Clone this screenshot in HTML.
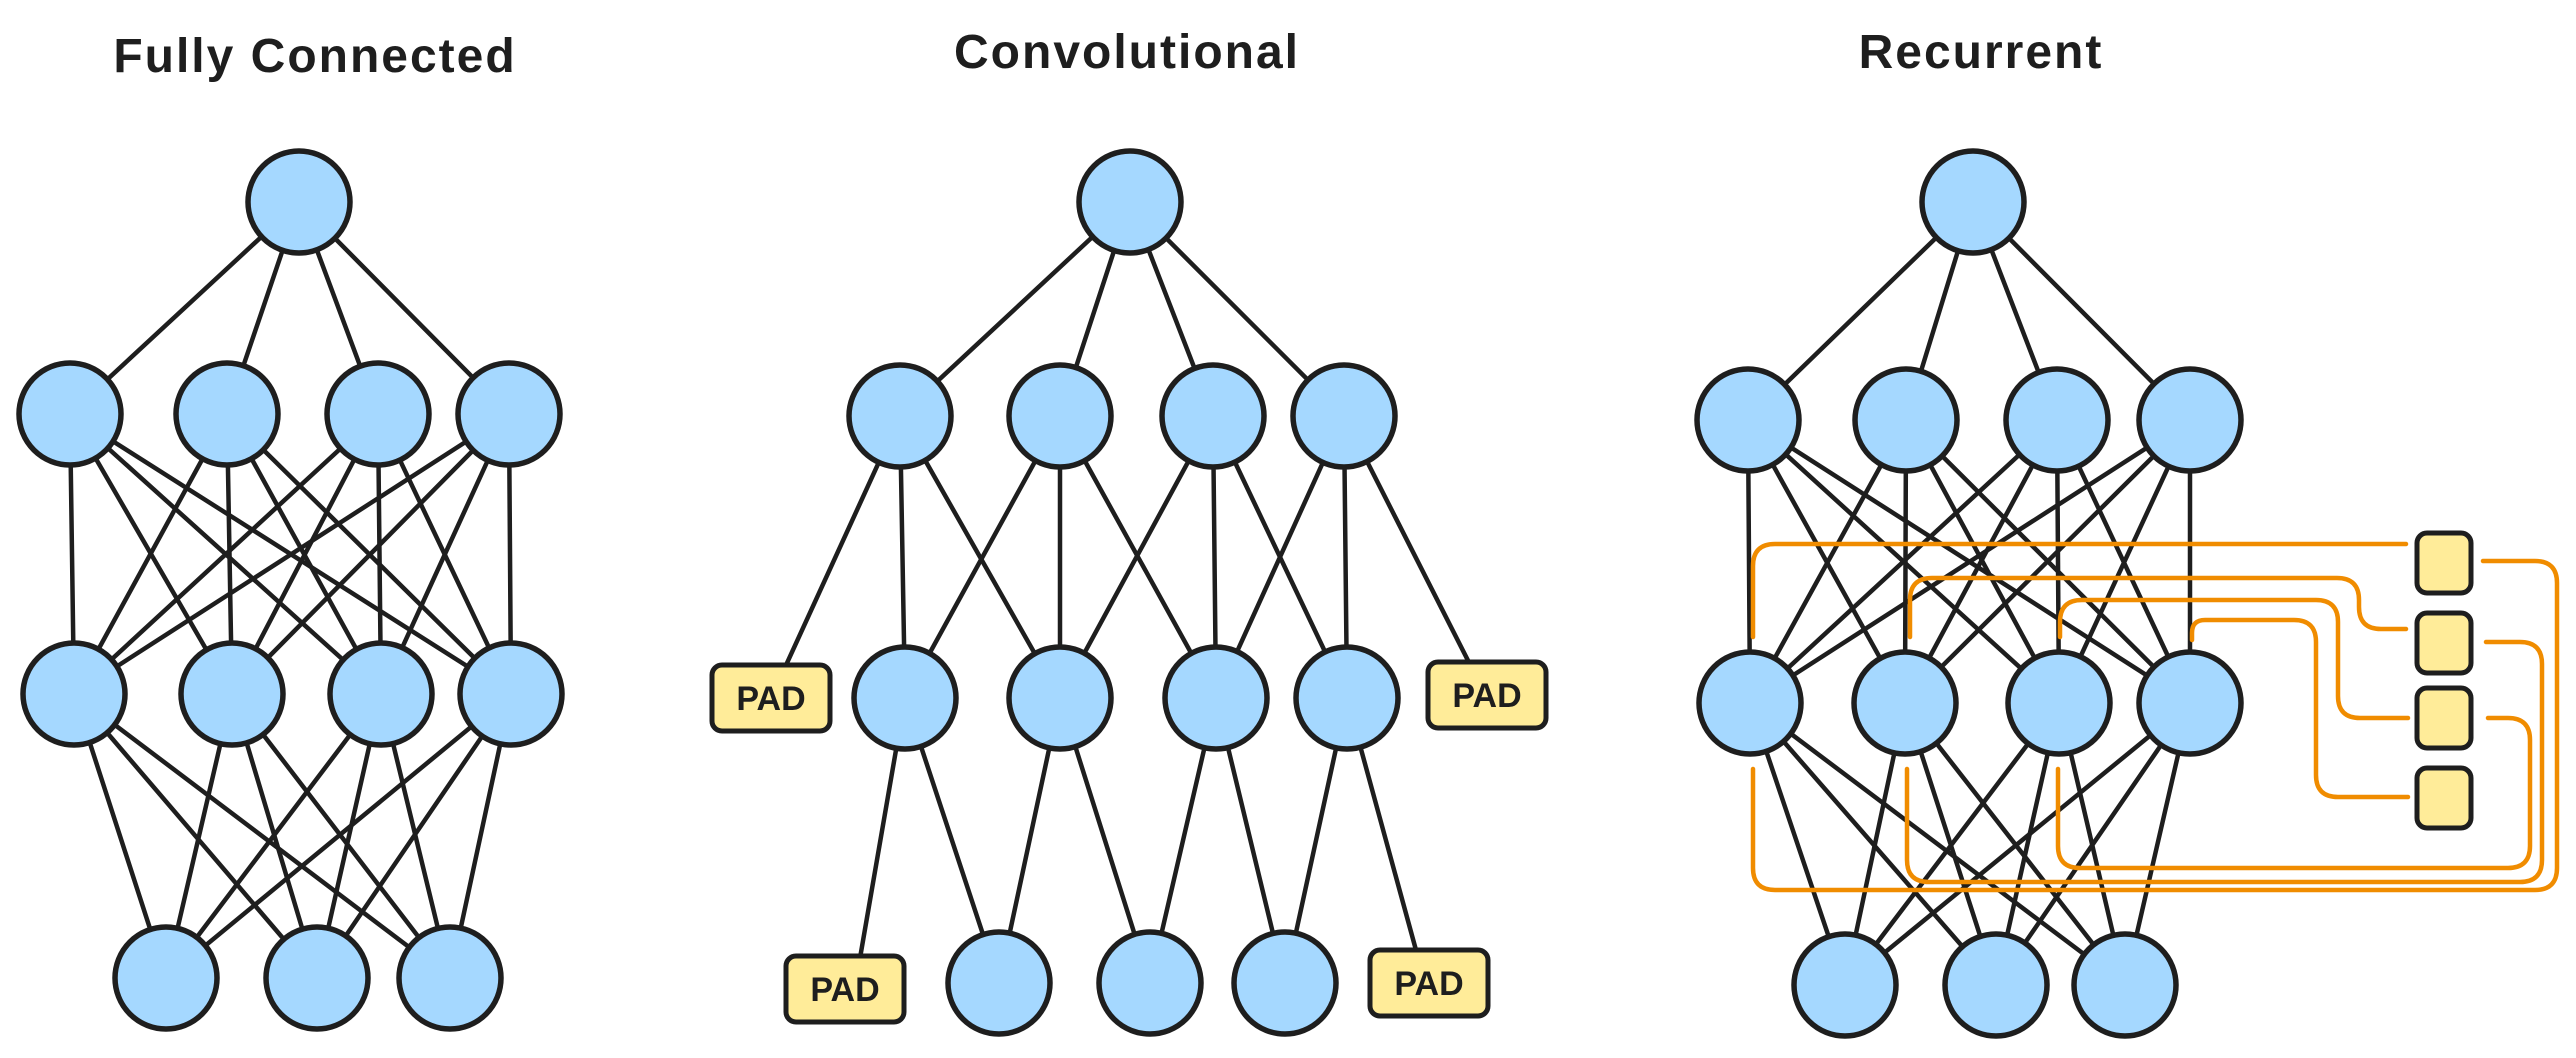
<!DOCTYPE html>
<html><head><meta charset="utf-8"><style>
html,body{margin:0;padding:0;background:#fff;}
svg{display:block;}
text{font-family:"Liberation Sans",sans-serif;fill:#1e1e1e;}
</style></head><body>
<svg width="2576" height="1058" viewBox="0 0 2576 1058" xmlns="http://www.w3.org/2000/svg">
<text x="315" y="72" font-size="48" font-weight="bold" text-anchor="middle" letter-spacing="2">Fully Connected</text>
<text x="1127" y="68" font-size="48" font-weight="bold" text-anchor="middle" letter-spacing="2">Convolutional</text>
<text x="1981" y="68" font-size="48" font-weight="bold" text-anchor="middle" letter-spacing="2">Recurrent</text>

<g stroke="#1e1e1e" stroke-width="4.5" stroke-linecap="round">
<line x1="299" y1="202" x2="70" y2="414"/><line x1="299" y1="202" x2="227" y2="414"/><line x1="299" y1="202" x2="378" y2="414"/><line x1="299" y1="202" x2="509" y2="414"/>
<line x1="70" y1="414" x2="74" y2="694"/><line x1="70" y1="414" x2="232" y2="694"/><line x1="70" y1="414" x2="381" y2="694"/><line x1="70" y1="414" x2="511" y2="694"/>
<line x1="227" y1="414" x2="74" y2="694"/><line x1="227" y1="414" x2="232" y2="694"/><line x1="227" y1="414" x2="381" y2="694"/><line x1="227" y1="414" x2="511" y2="694"/>
<line x1="378" y1="414" x2="74" y2="694"/><line x1="378" y1="414" x2="232" y2="694"/><line x1="378" y1="414" x2="381" y2="694"/><line x1="378" y1="414" x2="511" y2="694"/>
<line x1="509" y1="414" x2="74" y2="694"/><line x1="509" y1="414" x2="232" y2="694"/><line x1="509" y1="414" x2="381" y2="694"/><line x1="509" y1="414" x2="511" y2="694"/>
<line x1="74" y1="694" x2="166" y2="978"/><line x1="74" y1="694" x2="317" y2="978"/><line x1="74" y1="694" x2="450" y2="978"/>
<line x1="232" y1="694" x2="166" y2="978"/><line x1="232" y1="694" x2="317" y2="978"/><line x1="232" y1="694" x2="450" y2="978"/>
<line x1="381" y1="694" x2="166" y2="978"/><line x1="381" y1="694" x2="317" y2="978"/><line x1="381" y1="694" x2="450" y2="978"/>
<line x1="511" y1="694" x2="166" y2="978"/><line x1="511" y1="694" x2="317" y2="978"/><line x1="511" y1="694" x2="450" y2="978"/>
<line x1="1130" y1="202" x2="900" y2="416"/><line x1="1130" y1="202" x2="1060" y2="416"/><line x1="1130" y1="202" x2="1213" y2="416"/><line x1="1130" y1="202" x2="1344" y2="416"/>
<line x1="900" y1="416" x2="771" y2="698"/><line x1="900" y1="416" x2="905" y2="698"/><line x1="900" y1="416" x2="1060" y2="698"/>
<line x1="1060" y1="416" x2="905" y2="698"/><line x1="1060" y1="416" x2="1060" y2="698"/><line x1="1060" y1="416" x2="1216" y2="698"/>
<line x1="1213" y1="416" x2="1060" y2="698"/><line x1="1213" y1="416" x2="1216" y2="698"/><line x1="1213" y1="416" x2="1347" y2="698"/>
<line x1="1344" y1="416" x2="1216" y2="698"/><line x1="1344" y1="416" x2="1347" y2="698"/><line x1="1344" y1="416" x2="1487" y2="698"/>
<line x1="905" y1="698" x2="855" y2="987"/><line x1="905" y1="698" x2="999" y2="983"/>
<line x1="1060" y1="698" x2="999" y2="983"/><line x1="1060" y1="698" x2="1150" y2="983"/>
<line x1="1216" y1="698" x2="1150" y2="983"/><line x1="1216" y1="698" x2="1285" y2="983"/>
<line x1="1347" y1="698" x2="1285" y2="983"/><line x1="1347" y1="698" x2="1425" y2="983"/>
<line x1="1973" y1="202" x2="1748" y2="420"/><line x1="1973" y1="202" x2="1906" y2="420"/><line x1="1973" y1="202" x2="2057" y2="420"/><line x1="1973" y1="202" x2="2190" y2="420"/>
<line x1="1748" y1="420" x2="1750" y2="703"/><line x1="1748" y1="420" x2="1905" y2="703"/><line x1="1748" y1="420" x2="2059" y2="703"/><line x1="1748" y1="420" x2="2190" y2="703"/>
<line x1="1906" y1="420" x2="1750" y2="703"/><line x1="1906" y1="420" x2="1905" y2="703"/><line x1="1906" y1="420" x2="2059" y2="703"/><line x1="1906" y1="420" x2="2190" y2="703"/>
<line x1="2057" y1="420" x2="1750" y2="703"/><line x1="2057" y1="420" x2="1905" y2="703"/><line x1="2057" y1="420" x2="2059" y2="703"/><line x1="2057" y1="420" x2="2190" y2="703"/>
<line x1="2190" y1="420" x2="1750" y2="703"/><line x1="2190" y1="420" x2="1905" y2="703"/><line x1="2190" y1="420" x2="2059" y2="703"/><line x1="2190" y1="420" x2="2190" y2="703"/>
<line x1="1750" y1="703" x2="1845" y2="985"/><line x1="1750" y1="703" x2="1996" y2="985"/><line x1="1750" y1="703" x2="2125" y2="985"/>
<line x1="1905" y1="703" x2="1845" y2="985"/><line x1="1905" y1="703" x2="1996" y2="985"/><line x1="1905" y1="703" x2="2125" y2="985"/>
<line x1="2059" y1="703" x2="1845" y2="985"/><line x1="2059" y1="703" x2="1996" y2="985"/><line x1="2059" y1="703" x2="2125" y2="985"/>
<line x1="2190" y1="703" x2="1845" y2="985"/><line x1="2190" y1="703" x2="1996" y2="985"/><line x1="2190" y1="703" x2="2125" y2="985"/>
</g>

<g fill="none" stroke="#f08c00" stroke-width="4.5" stroke-linecap="round" stroke-linejoin="round">
<path d="M2406 544 L1775 544 Q1753 544 1753 566 L1753 637"/>
<path d="M1753 769 L1753 868 Q1753 890 1775 890 L2535 890 Q2557 890 2557 868 L2557 583 Q2557 561 2535 561 L2483 561"/>
<path d="M2406 629 L2381 629 Q2359 629 2359 607 L2359 600 Q2359 578 2337 578 L1932 578 Q1910 578 1910 600 L1910 637"/>
<path d="M1907 769 L1907 860 Q1907 882 1929 882 L2520 882 Q2542 882 2542 860 L2542 664 Q2542 642 2520 642 L2486 642"/>
<path d="M2408 718 L2360 718 Q2338 718 2338 696 L2338 622 Q2338 600 2316 600 L2082 600 Q2060 600 2060 622 L2060 637"/>
<path d="M2058 769 L2058 846 Q2058 868 2080 868 L2508 868 Q2530 868 2530 846 L2530 740 Q2530 718 2508 718 L2488 718"/>
<path d="M2408 797 L2338 797 Q2316 797 2316 775 L2316 642 Q2316 620 2294 620 L2205 620 Q2192 620 2192 633 L2192 640"/>
</g>

<g fill="#a5d8ff" stroke="#1e1e1e" stroke-width="5.5">
<circle cx="299" cy="202" r="51"/>
<circle cx="70" cy="414" r="51"/><circle cx="227" cy="414" r="51"/><circle cx="378" cy="414" r="51"/><circle cx="509" cy="414" r="51"/>
<circle cx="74" cy="694" r="51"/><circle cx="232" cy="694" r="51"/><circle cx="381" cy="694" r="51"/><circle cx="511" cy="694" r="51"/>
<circle cx="166" cy="978" r="51"/><circle cx="317" cy="978" r="51"/><circle cx="450" cy="978" r="51"/>
<circle cx="1130" cy="202" r="51"/>
<circle cx="900" cy="416" r="51"/><circle cx="1060" cy="416" r="51"/><circle cx="1213" cy="416" r="51"/><circle cx="1344" cy="416" r="51"/>
<circle cx="905" cy="698" r="51"/><circle cx="1060" cy="698" r="51"/><circle cx="1216" cy="698" r="51"/><circle cx="1347" cy="698" r="51"/>
<circle cx="999" cy="983" r="51"/><circle cx="1150" cy="983" r="51"/><circle cx="1285" cy="983" r="51"/>
<circle cx="1973" cy="202" r="51"/>
<circle cx="1748" cy="420" r="51"/><circle cx="1906" cy="420" r="51"/><circle cx="2057" cy="420" r="51"/><circle cx="2190" cy="420" r="51"/>
<circle cx="1750" cy="703" r="51"/><circle cx="1905" cy="703" r="51"/><circle cx="2059" cy="703" r="51"/><circle cx="2190" cy="703" r="51"/>
<circle cx="1845" cy="985" r="51"/><circle cx="1996" cy="985" r="51"/><circle cx="2125" cy="985" r="51"/>
</g>

<g fill="#ffec99" stroke="#1e1e1e" stroke-width="5">
<rect x="712" y="665" width="118" height="66" rx="10"/>
<rect x="1428" y="662" width="118" height="66" rx="10"/>
<rect x="786" y="956" width="118" height="66" rx="10"/>
<rect x="1370" y="950" width="118" height="66" rx="10"/>
<rect x="2417" y="533" width="54" height="60" rx="10"/>
<rect x="2417" y="613" width="54" height="60" rx="10"/>
<rect x="2417" y="688" width="54" height="60" rx="10"/>
<rect x="2417" y="768" width="54" height="60" rx="10"/>
</g>
<g font-size="34" text-anchor="middle" font-weight="bold">
<text x="771" y="710">PAD</text>
<text x="1487" y="707">PAD</text>
<text x="845" y="1001">PAD</text>
<text x="1429" y="995">PAD</text>
</g>
</svg>
</body></html>
